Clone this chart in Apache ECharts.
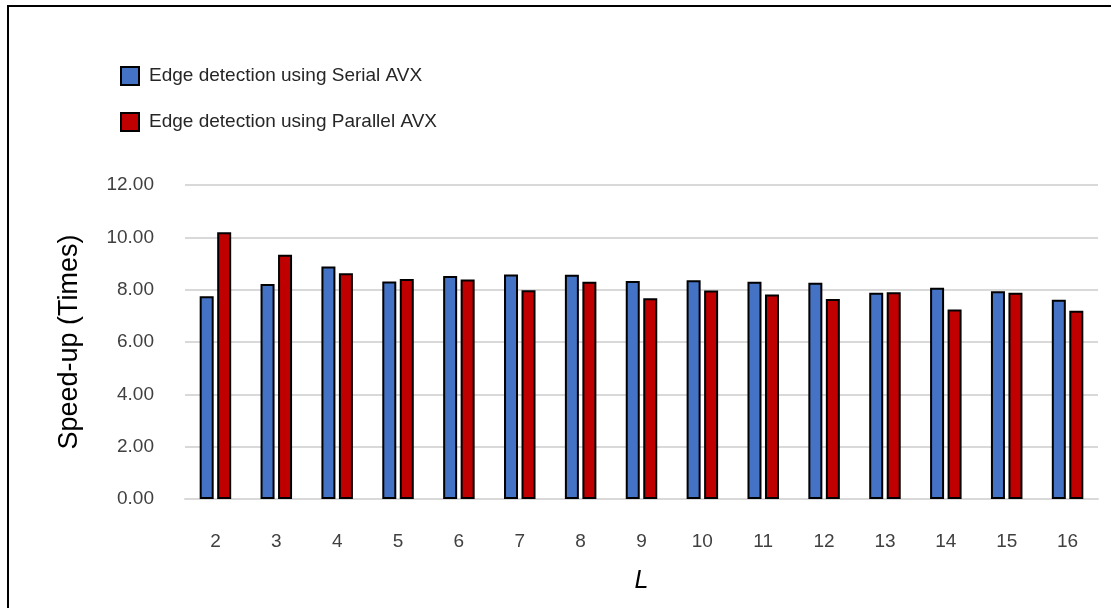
<!DOCTYPE html>
<html>
<head>
<meta charset="utf-8">
<script src="https://cdn.jsdelivr.net/npm/echarts@6/dist/echarts.min.js"></script>
<style>
  html, body { margin: 0; padding: 0; background: #ffffff; }
  #chart { width: 1111px; height: 608px; }
</style>
</head>
<body>
<div id="chart"></div>
<script>
// Speed-up of edge detection for each L
const categories = ['2', '3', '4', '5', '6', '7', '8', '9', '10', '11', '12', '13', '14', '15', '16'];
const serialAVX = [7.75, 8.22, 8.89, 8.31, 8.52, 8.58, 8.57, 8.33, 8.36, 8.30, 8.26, 7.88, 8.07, 7.94, 7.61];
const parallelAVX = [10.19, 9.33, 8.63, 8.41, 8.39, 7.98, 8.30, 7.67, 7.97, 7.82, 7.64, 7.90, 7.24, 7.88, 7.19];
const seriesNames = ['Edge detection using Serial AVX', 'Edge detection using Parallel AVX'];

const FONT = '"Liberation Sans", Arial, sans-serif';

const chart = echarts.init(document.getElementById('chart'), null, { renderer: 'canvas' });

chart.setOption({
  backgroundColor: '#ffffff',
  animation: false,
  graphic: [{
    type: 'rect',
    shape: { x: 8, y: 6, width: 1200, height: 700 },
    style: { fill: 'none', stroke: '#000000', lineWidth: 2 },
    silent: true
  }],
  legend: {
    orient: 'vertical',
    left: 115,
    top: 61,
    icon: 'rect',
    itemWidth: 18,
    itemHeight: 18,
    itemGap: 26,
    textStyle: { fontFamily: FONT, fontSize: 19, color: '#262626', padding: [0, 0, 0, 5] },
    data: seriesNames
  },
  grid: { left: 185, right: 13, top: 185, bottom: 109, containLabel: false },
  xAxis: {
    type: 'category',
    data: categories,
    name: 'L',
    nameLocation: 'middle',
    nameGap: 70,
    nameTextStyle: { fontFamily: FONT, fontSize: 25, fontStyle: 'italic', color: '#000000' },
    axisLine: { show: true, lineStyle: { color: '#D9D9D9', width: 2 } },
    axisTick: { show: false },
    axisLabel: { fontFamily: FONT, fontSize: 19, color: '#404040', margin: 33 }
  },
  yAxis: {
    type: 'value',
    min: 0,
    max: 12,
    interval: 2,
    name: 'Speed-up (Times)',
    nameLocation: 'middle',
    nameGap: 102,
    nameTextStyle: { fontFamily: FONT, fontSize: 27, color: '#000000' },
    axisLine: { show: false },
    axisTick: { show: false },
    splitLine: { lineStyle: { color: '#D9D9D9', width: 2 } },
    axisLabel: {
      fontFamily: FONT, fontSize: 19, color: '#404040', margin: 31,
      formatter: v => v.toFixed(2)
    }
  },
  series: [
    {
      name: seriesNames[0],
      type: 'bar',
      data: serialAVX,
      barWidth: 14,
      barGap: '25%',
      itemStyle: { color: '#4472C4', borderColor: '#000000', borderWidth: 2 }
    },
    {
      name: seriesNames[1],
      type: 'bar',
      data: parallelAVX,
      barWidth: 14,
      barGap: '25%',
      itemStyle: { color: '#C00000', borderColor: '#000000', borderWidth: 2 }
    }
  ]
});
</script>
</body>
</html>
